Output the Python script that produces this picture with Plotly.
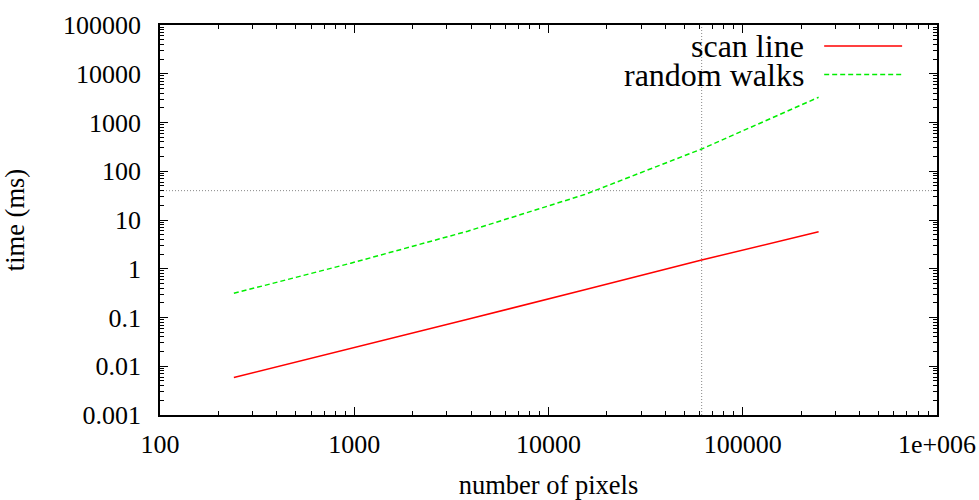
import plotly.graph_objects as go

# image sizes (pixels) and timings (ms)
pixels = [240, 960, 3840, 15360, 61440, 245760]
scan_line = [0.0059, 0.023, 0.092, 0.37, 1.51, 5.75]
random_walks = [0.313, 1.3, 5.9, 33.3, 286, 3290]

# reference marks
ref_pixels = 61440
ref_time = 40

x_ticks = [100, 1000, 10000, 100000, 1000000]
x_labels = ["100", "1000", "10000", "100000", "1e+006"]
y_ticks = [0.001, 0.01, 0.1, 1, 10, 100, 1000, 10000, 100000]
y_labels = ["0.001", "0.01", "0.1", "1", "10", "100", "1000", "10000", "100000"]

font = "Liberation Serif, Times New Roman, serif"

fig = go.Figure()

# dotted reference lines
fig.add_trace(go.Scatter(x=[x_ticks[0], x_ticks[-1]], y=[ref_time, ref_time], mode="lines",
                         line=dict(color="#888888", width=1, dash="1px,2px"),
                         hoverinfo="skip", showlegend=False))
fig.add_trace(go.Scatter(x=[ref_pixels, ref_pixels], y=[y_ticks[0], y_ticks[-1]], mode="lines",
                         line=dict(color="#888888", width=1, dash="1px,2px"),
                         hoverinfo="skip", showlegend=False))

fig.add_trace(go.Scatter(x=pixels, y=scan_line, mode="lines", name="scan line",
                         line=dict(color="#ff0000", width=1.5), showlegend=False))
fig.add_trace(go.Scatter(x=pixels, y=random_walks, mode="lines", name="random walks",
                         line=dict(color="#00ee00", width=1.5, dash="5px,3px"), showlegend=False))

# gnuplot-style legend: text right, sample on the right
legend = [("scan line", "#ff0000", "solid", 0.946), ("random walks", "#00ee00", "5px,3px", 0.873)]
for label, color, dash, ypos in legend:
    fig.add_annotation(x=0.832, y=ypos, xref="paper", yref="paper", text=label,
                       showarrow=False, xanchor="right", yanchor="middle",
                       font=dict(family=font, size=32, color="black"))
    fig.add_shape(type="line", xref="paper", yref="paper", x0=0.8548, x1=0.9551, y0=ypos, y1=ypos,
                  line=dict(color=color, width=1.5, dash=dash))

axis_common = dict(
    type="log", showline=True, linecolor="black", linewidth=1.5, mirror="ticks",
    ticks="inside", ticklen=8, tickwidth=1, tickcolor="black",
    minor=dict(ticks="inside", ticklen=4, tickwidth=1, tickcolor="black", dtick="D1"),
    showgrid=False, zeroline=False, automargin=False,
    tickfont=dict(family=font, size=26, color="black"),
)

fig.update_xaxes(range=[2, 6], tickvals=x_ticks, ticktext=x_labels, ticklabelstandoff=5,
                 title=dict(text="number of pixels", font=dict(family=font, size=26.5, color="black"),
                            standoff=38),
                 **axis_common)
fig.update_yaxes(range=[-3, 5], tickvals=y_ticks, ticktext=y_labels, ticklabelstandoff=12,
                 title=dict(text="time (ms)", font=dict(family=font, size=26.5, color="black"),
                            standoff=31),
                 **axis_common)

fig.update_layout(
    width=979, height=500,
    margin=dict(l=160, r=42, t=25, b=85),
    plot_bgcolor="white", paper_bgcolor="white",
    showlegend=False,
)

# drop the default page margin so the figure fills the window
fig.write_html("out.html", config={"displayModeBar": False},
               post_script="document.body.style.margin='0';")
